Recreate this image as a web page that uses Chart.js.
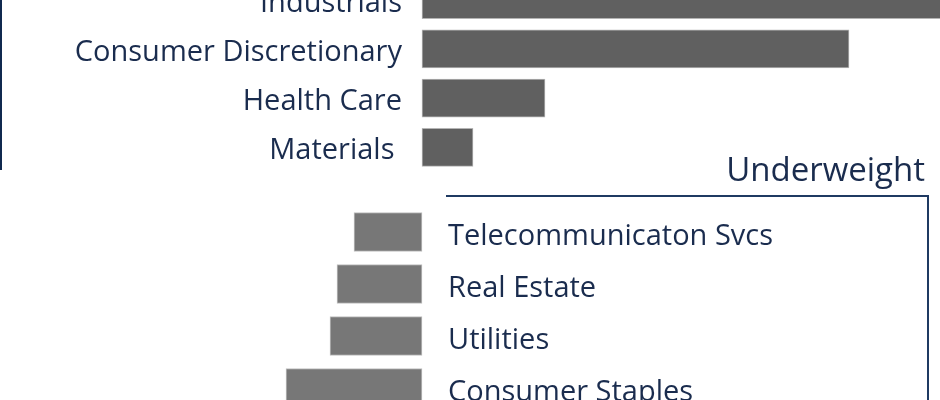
<!DOCTYPE html>
<html>
<head>
<meta charset="utf-8">
<script src="https://cdn.jsdelivr.net/npm/chart.js@4/dist/chart.umd.min.js"></script>
<style>
  html, body { margin: 0; padding: 0; background: #ffffff; overflow: hidden; width: 940px; height: 400px; }
  #wrap { position: relative; width: 940px; height: 400px; overflow: hidden; }
  #over { position: absolute; left: 0; top: -25px; }
  #under { position: absolute; left: 0; top: 140px; }
</style>
</head>
<body>
<div id="wrap">
  <canvas id="over" width="940" height="197"></canvas>
  <canvas id="under" width="940" height="274"></canvas>
</div>
<script>
// ---- data ----
const overCategories = ['Industrials', 'Consumer Discretionary', 'Health Care', 'Materials '];
const overValues = [5.4, 4.27, 1.23, 0.51];
const underCategories = ['Telecommunicaton Svcs', 'Real Estate', 'Utilities', 'Consumer Staples'];
const underValues = [-0.68, -0.85, -0.92, -1.36];
const underTitle = 'Underweight';
const axisMin = -4.22;
const axisMax = 5.18;

// ---- styles ----
const textColor = '#1a2c4e';
const lineColor = '#1f3a62';
const labelFont = '29px "Open Sans", "Noto Sans", sans-serif';
const titleFont = '33px "Open Sans", "Noto Sans", sans-serif';

function baseOptions(padding) {
  return {
    indexAxis: 'y',
    responsive: false,
    animation: false,
    events: [],
    layout: { padding: padding },
    plugins: { legend: { display: false }, tooltip: { enabled: false }, title: { display: false } },
    scales: {
      x: { display: false, min: axisMin, max: axisMax },
      y: { display: false }
    }
  };
}

const overLabels = {
  id: 'overLabels',
  afterDatasetsDraw(chart) {
    const ctx = chart.ctx;
    const ys = chart.scales.y, xs = chart.scales.x;
    const zero = xs.getPixelForValue(0);
    ctx.save();
    ctx.font = labelFont;
    ctx.fillStyle = textColor;
    ctx.textAlign = 'right';
    ctx.textBaseline = 'alphabetic';
    chart.data.labels.forEach((lab, i) => {
      ctx.fillText(lab, zero - 20, ys.getPixelForValue(i) + 12);
    });
    // left bracket line
    ctx.strokeStyle = '#10294f';
    ctx.lineWidth = 2;
    ctx.beginPath();
    ctx.moveTo(1, chart.chartArea.top);
    ctx.lineTo(1, chart.chartArea.bottom - 2);
    ctx.stroke();
    ctx.restore();
  }
};

const underLabels = {
  id: 'underLabels',
  afterDatasetsDraw(chart) {
    const ctx = chart.ctx;
    const ys = chart.scales.y, xs = chart.scales.x;
    const zero = xs.getPixelForValue(0);
    const top = chart.chartArea.top;
    ctx.save();
    ctx.font = labelFont;
    ctx.fillStyle = textColor;
    ctx.textAlign = 'left';
    ctx.textBaseline = 'alphabetic';
    chart.data.labels.forEach((lab, i) => {
      ctx.fillText(lab, zero + 26, ys.getPixelForValue(i) + 13);
    });
    // group title
    ctx.font = titleFont;
    ctx.textAlign = 'right';
    ctx.fillText(underTitle, 925, top - 25);
    // bracket
    ctx.strokeStyle = lineColor;
    ctx.lineWidth = 2;
    ctx.beginPath();
    ctx.moveTo(zero + 24, top - 10);
    ctx.lineTo(928, top - 10);
    ctx.lineTo(928, chart.height);
    ctx.stroke();
    ctx.restore();
  }
};

new Chart(document.getElementById('over'), {
  type: 'bar',
  data: {
    labels: overCategories,
    datasets: [{
      data: overValues,
      backgroundColor: '#606060',
      borderColor: '#b4b4b4',
      borderWidth: 1,
      borderSkipped: false,
      barThickness: 38
    }]
  },
  options: baseOptions(0),
  plugins: [overLabels]
});

new Chart(document.getElementById('under'), {
  type: 'bar',
  data: {
    labels: underCategories,
    datasets: [{
      data: underValues,
      backgroundColor: '#777777',
      borderColor: '#c0c0c0',
      borderWidth: 1,
      borderSkipped: false,
      barThickness: 39
    }]
  },
  options: baseOptions({ top: 66, left: 0, right: 0, bottom: 0 }),
  plugins: [underLabels]
});
</script>
</body>
</html>
